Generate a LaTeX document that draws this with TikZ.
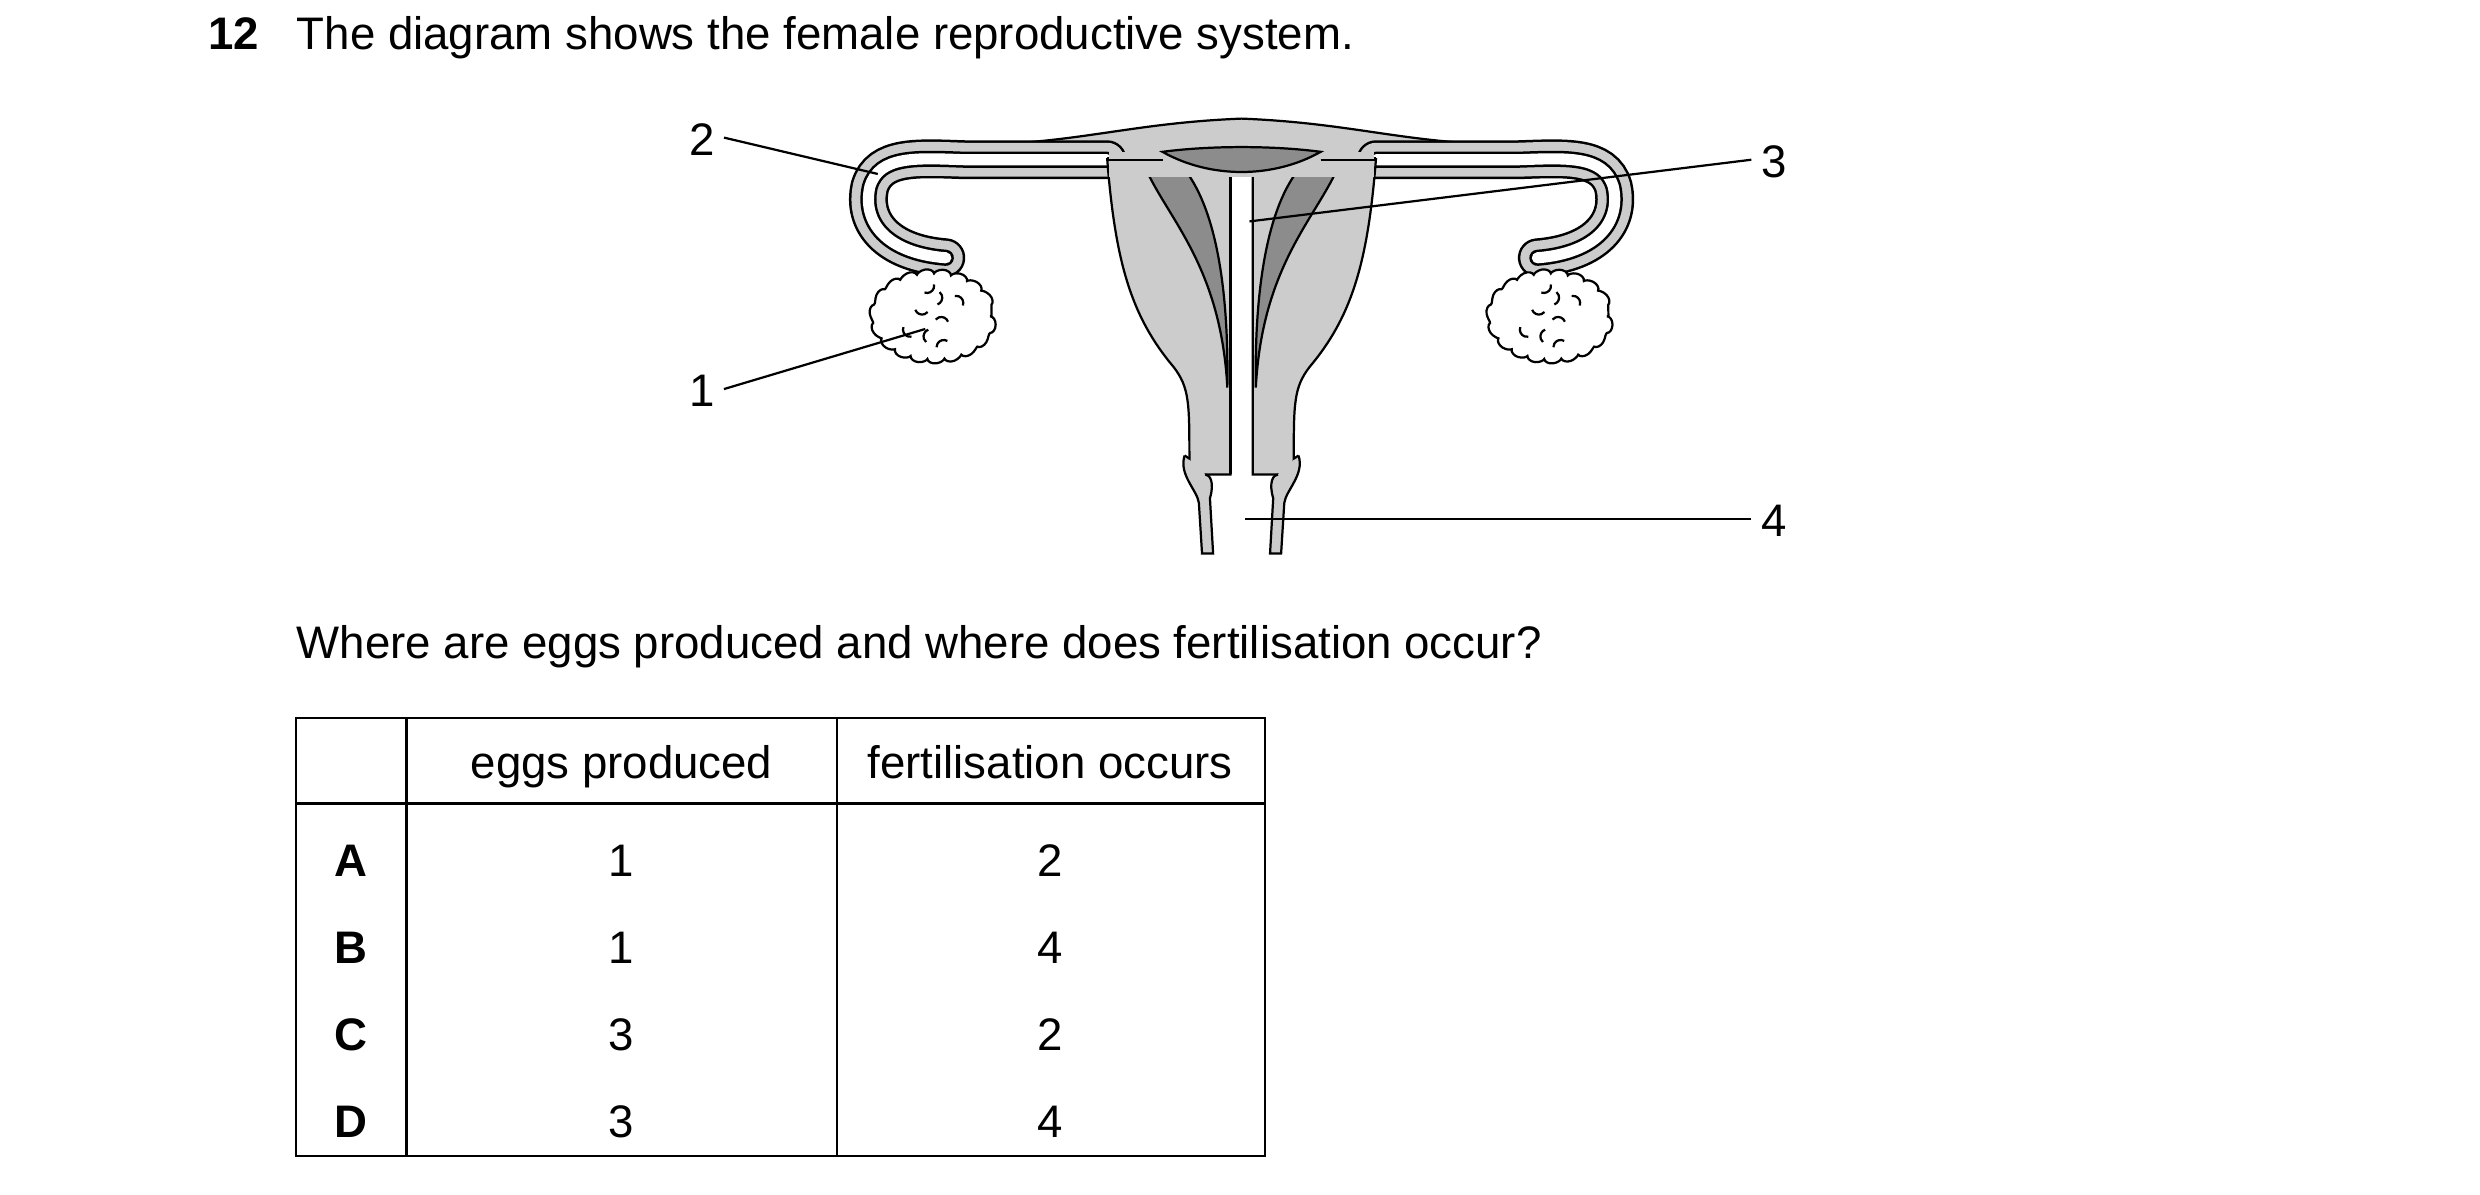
\documentclass[tikz,border=0pt]{standalone}
\usepackage{fontspec}
\setmainfont{Liberation Sans}
\usetikzlibrary{positioning,decorations.pathmorphing}
\tikzset{
  lbl/.style={inner sep=0pt,text height=1.6ex,text depth=0.4ex,font=\fontsize{8.2}{9.8}\selectfont},
  lead/.style={thin},
  tubeout/.style={line width=7pt,line cap=round},
  tubegrey/.style={line width=6.1pt,line cap=round,draw=black!20},
  tubein/.style={line width=2.9pt,line cap=round},
  tubewhite/.style={line width=2.0pt,line cap=round,draw=white},
}
\begin{document}
\begin{tikzpicture}[x=0.01cm,y=-0.01cm]
\useasboundingbox (0,0) rectangle (1568,755);

%Heading
\node[lbl,anchor=west,font=\fontsize{8.2}{9.8}\selectfont\bfseries] (num) at (131,20) {12};
\node[lbl,anchor=west] (title) at (187,20) {The diagram shows the female reproductive system.};

%Fundus
\filldraw[fill=black!20] (600,92) .. controls (680,92) and (710,78) .. (785,75)
   .. controls (860,78) and (890,92) .. (970,92) -- (970,104) -- (600,104) -- cycle;
%Tubes
\foreach \s in {tubeout,tubegrey,tubein,tubewhite}
  \draw[\s] (598,163) .. controls (560,160) and (545,140) .. (550,118) .. controls (556,98) and (580,100) .. (610,101)
     -- (700,101);
\foreach \s in {tubeout,tubegrey,tubein,tubewhite}
  \draw[\s] (870,101) -- (960,101) .. controls (990,100) and (1014,98) .. (1020,118) .. controls (1025,140) and (1010,160) .. (972,163);

%Uterus body
\foreach \m in {1,-1}{
\begin{scope}[shift={(785,0)},xscale=\m,shift={(-785,0)}]
\filldraw[fill=black!20] (700,100) .. controls (705,165) and (715,200) .. (742,232)
   .. controls (752,245) and (752,255) .. (752,290) .. controls (752,300) and (760,305) .. (762,300)
   -- (778,300) -- (778,110) -- (700,100);
\fill[black!20] (701,103) rectangle (777,112);
\draw (778,112) -- (778,300);
\filldraw[fill=black!45] (725,108) .. controls (740,140) and (772,170) .. (776,245)
   .. controls (777,180) and (768,130) .. (748,106) -- cycle;
%vagina wall
\filldraw[fill=black!20] (749,288) .. controls (745,300) and (757,310) .. (758,318) -- (760,350) -- (767,350)
   -- (765,315) .. controls (768,305) and (765,300) .. (762,300);
\draw (752,290) -- (749,288);
\end{scope}}
\fill[black!20] (701,96) rectangle (869,112);
\filldraw[fill=black!45] (735,96) .. controls (765,113) and (805,113) .. (835,96)
   .. controls (805,92) and (765,92) .. cycle;
\draw (700,101) -- (735,101) (835,101) -- (870,101);

%Ovaries
\foreach \cx in {590,980}{
\draw[fill=white,decorate,decoration={bumps,segment length=6pt,amplitude=1pt}]
   (\cx,200) ellipse [x radius=36, y radius=26];
\foreach \a/\r in {20/10,110/9,200/12,290/8,60/18,160/20,250/16,340/20}
  \draw[thin] ([shift={(\a:\r)}]\cx,200) arc [start angle=\a, end angle=\a+120, radius=1.3pt];
}

%Labels
\node[lbl] (l2) at (444,87) {2};
\node[lbl] (l1) at (444,246) {1};
\node[lbl] (l3) at (1122,101) {3};
\node[lbl] (l4) at (1122,328) {4};
\coordinate (p2) at (555,110);
\coordinate (p1) at (585,208);
\coordinate (p3) at (790,140);
\coordinate (p4) at (787,328);
\draw[lead] (l2.east) ++(5,0) -- (p2);
\draw[lead] (l1.east) ++(5,0) -- (p1);
\draw[lead] (l3.west) ++(-6,0) -- (p3);
\draw[lead] (l4.west) ++(-6,0) -- (p4);

%Question
\node[lbl,anchor=west] (q) at (187,405) {Where are eggs produced and where does fertilisation occur?};

%Table
\draw (187,454) rectangle (800,731);
\draw (187,508) -- (800,508);
\draw (257,454) -- (257,731);
\draw (529,454) -- (529,731);
\node[lbl] (h1) at (393,481) {eggs produced};
\node[lbl] (h2) at (664,481) {fertilisation occurs};
\foreach \r/\y/\e/\f in {A/543/1/2,B/598/1/4,C/653/3/2,D/708/3/4}{
  \node[lbl,font=\fontsize{8.2}{9.8}\selectfont\bfseries] (r\r) at (222,\y) {\r};
  \node[lbl] (e\r) at (393,\y) {\e};
  \node[lbl] (f\r) at (664,\y) {\f};
}
\end{tikzpicture}
\end{document}
